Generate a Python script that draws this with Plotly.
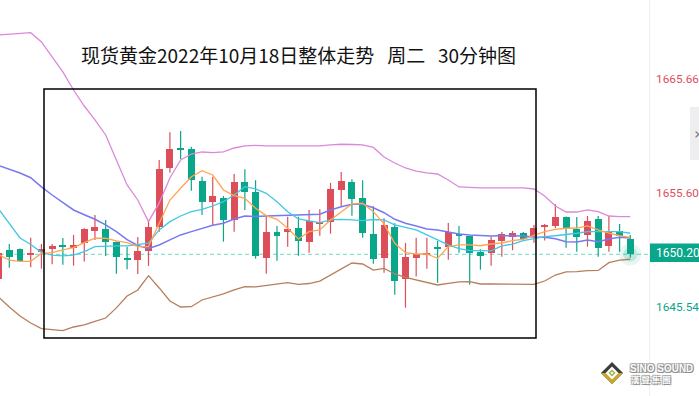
import plotly.graph_objects as go

# ---------------- data ----------------
title_text = "现货黄金2022年10月18日整体走势\u00a0\u00a0\u00a0周二\u00a0\u00a0\u00a030分钟图"

opens = [1648.07, 1650.60, 1650.68, 1650.18, 1650.45, 1650.68, 1650.95, 1650.80, 1651.19, 1652.30,
         1652.45, 1651.30, 1649.92, 1649.71, 1650.51, 1652.65, 1657.85, 1659.49, 1659.49, 1656.67,
         1654.85, 1655.15, 1653.24, 1656.59, 1655.70, 1649.92, 1652.18, 1652.16, 1652.53, 1651.33,
         1652.95, 1653.04, 1655.91, 1656.59, 1655.18, 1652.00, 1649.92, 1652.65, 1648.07, 1649.92,
         1650.15, 1650.77, 1650.86, 1651.94, 1651.83, 1650.42, 1650.36, 1651.39, 1651.77, 1652.09,
         1651.77, 1652.65, 1652.71, 1653.50, 1652.45, 1651.94, 1653.33, 1650.97, 1652.27, 1651.57]
highs = [1650.60, 1651.12, 1650.72, 1651.68, 1651.12, 1651.12, 1651.65, 1651.92, 1652.50, 1653.68,
         1653.24, 1651.35, 1650.89, 1651.74, 1653.09, 1658.52, 1660.96, 1661.08, 1659.70, 1657.05,
         1657.05, 1655.35, 1657.29, 1657.70, 1656.74, 1653.65, 1652.71, 1653.53, 1653.53, 1654.12,
         1654.18, 1656.50, 1657.47, 1656.82, 1656.74, 1654.45, 1653.39, 1652.95, 1651.21, 1651.68,
         1651.68, 1651.39, 1652.98, 1652.71, 1651.85, 1650.66, 1651.77, 1652.18, 1652.27, 1652.18,
         1652.80, 1652.89, 1654.62, 1653.55, 1653.50, 1653.59, 1653.59, 1653.59, 1652.89, 1651.92]
lows = [1647.90, 1649.04, 1649.60, 1649.07, 1648.95, 1649.33, 1649.30, 1649.21, 1649.58, 1651.48,
        1650.07, 1648.51, 1648.90, 1648.48, 1649.19, 1652.21, 1657.41, 1658.61, 1655.82, 1653.68,
        1652.80, 1651.33, 1652.21, 1654.12, 1649.83, 1648.51, 1649.65, 1650.89, 1650.09, 1650.36,
        1651.86, 1652.03, 1654.41, 1653.62, 1651.68, 1649.39, 1648.60, 1646.66, 1645.51, 1648.25,
        1648.95, 1647.71, 1649.74, 1650.36, 1647.53, 1648.86, 1649.21, 1650.00, 1650.57, 1651.42,
        1651.24, 1651.42, 1652.53, 1650.80, 1650.45, 1650.89, 1650.00, 1650.45, 1650.45, 1649.92]
closes = [1650.37, 1650.00, 1649.65, 1650.33, 1650.68, 1650.95, 1650.86, 1651.04, 1652.45, 1652.62,
          1651.33, 1650.00, 1649.74, 1650.48, 1652.62, 1657.73, 1659.49, 1659.43, 1656.74, 1654.85,
          1655.35, 1653.26, 1656.59, 1655.73, 1650.09, 1652.18, 1651.86, 1652.45, 1651.36, 1653.15,
          1653.06, 1655.94, 1656.67, 1655.11, 1652.12, 1649.83, 1652.80, 1647.89, 1649.98, 1650.22,
          1650.33, 1650.71, 1652.16, 1651.83, 1650.36, 1650.09, 1651.48, 1652.00, 1652.09, 1651.54,
          1652.53, 1652.71, 1653.50, 1652.53, 1651.77, 1653.15, 1650.80, 1652.18, 1651.83, 1650.20]

boll_upper = [1669.54, 1669.62, 1669.71, 1669.74, 1668.92, 1667.60, 1666.28, 1664.69, 1663.28, 1662.05,
              1660.73, 1658.52, 1656.32, 1655.00, 1653.09, 1654.74, 1656.94, 1658.52, 1659.05, 1659.23,
              1659.18, 1659.23, 1659.58, 1659.76, 1659.82, 1659.76, 1659.76, 1659.76, 1659.76, 1659.76,
              1659.76, 1659.85, 1659.91, 1659.89, 1659.85, 1659.63, 1658.79, 1658.26, 1657.82, 1657.55,
              1657.38, 1657.29, 1656.76, 1656.15, 1656.08, 1656.06, 1656.06, 1656.08, 1656.08, 1656.06,
              1655.97, 1655.35, 1654.47, 1653.94, 1653.94, 1654.12, 1653.97, 1653.59, 1653.53, 1653.53]
boll_lower = [1646.45, 1645.57, 1644.78, 1644.16, 1643.66, 1643.55, 1643.49, 1643.81, 1643.99, 1644.30,
              1644.60, 1645.49, 1646.54, 1647.07, 1648.33, 1647.25, 1646.10, 1645.57, 1645.60, 1646.19,
              1646.45, 1646.72, 1647.07, 1647.36, 1647.34, 1647.45, 1647.54, 1647.71, 1647.57, 1647.64,
              1647.85, 1648.39, 1648.98, 1649.45, 1649.36, 1648.83, 1648.98, 1648.48, 1648.19, 1647.95,
              1647.71, 1647.51, 1647.66, 1647.78, 1647.80, 1647.60, 1647.60, 1647.60, 1647.60, 1647.60,
              1647.57, 1647.86, 1648.39, 1648.66, 1648.68, 1648.77, 1648.79, 1649.48, 1649.71, 1649.78]
ma20 = [1658.04, 1657.73, 1657.38, 1656.96, 1656.15, 1655.44, 1654.80, 1654.12, 1653.70, 1653.30,
        1652.80, 1652.21, 1651.50, 1650.99, 1650.73, 1651.04, 1651.48, 1651.92, 1652.21, 1652.51,
        1652.77, 1652.95, 1653.33, 1653.59, 1653.55, 1653.59, 1653.62, 1653.65, 1653.68, 1653.70,
        1653.74, 1654.12, 1654.41, 1654.62, 1654.62, 1654.32, 1653.88, 1653.30, 1652.95, 1652.71,
        1652.45, 1652.36, 1652.15, 1652.00, 1651.92, 1651.85, 1651.83, 1651.85, 1651.83, 1651.83,
        1651.74, 1651.71, 1651.59, 1651.33, 1651.30, 1651.48, 1651.33, 1651.56, 1651.71, 1651.65]
ma10 = [1654.21, 1652.89, 1651.65, 1651.08, 1650.39, 1650.15, 1650.07, 1650.15, 1650.45, 1650.89,
        1650.95, 1650.95, 1650.95, 1651.04, 1651.19, 1652.36, 1653.09, 1653.59, 1653.97, 1654.18,
        1654.47, 1654.85, 1655.44, 1656.17, 1655.97, 1655.59, 1654.85, 1653.97, 1653.33, 1653.15,
        1653.00, 1653.24, 1653.30, 1653.24, 1653.18, 1653.28, 1653.24, 1652.80, 1652.59, 1652.36,
        1651.92, 1651.48, 1651.04, 1650.71, 1650.53, 1650.53, 1650.51, 1650.95, 1651.12, 1651.41,
        1651.59, 1651.77, 1651.85, 1651.94, 1652.07, 1652.21, 1652.21, 1652.24, 1652.21, 1652.07]
ma5 = [1650.20, 1649.71, 1649.60, 1649.60, 1650.30, 1650.36, 1650.60, 1650.80, 1651.24, 1651.63,
       1651.63, 1651.39, 1651.24, 1650.89, 1650.89, 1652.95, 1655.00, 1656.03, 1657.05, 1657.58,
       1657.20, 1655.88, 1655.38, 1655.15, 1654.27, 1653.62, 1653.30, 1652.51, 1651.56, 1652.21,
       1652.36, 1653.24, 1653.97, 1654.65, 1654.71, 1653.97, 1652.89, 1651.19, 1650.36, 1650.24,
       1650.24, 1649.86, 1650.89, 1651.04, 1651.04, 1650.97, 1651.12, 1651.21, 1651.41, 1651.54,
       1651.89, 1652.21, 1652.42, 1652.51, 1652.53, 1652.71, 1652.36, 1652.07, 1651.85, 1651.71]

axis_tick_values = [1665.66, 1655.60, 1645.54]
axis_tick_colors = ["#DC4E5A", "#DC4E5A", "#0AA68A"]
current_price = 1650.20

# ---------------- styling ----------------
UP = "#DC4E5A"
DOWN = "#0AA68A"
W, H = 699, 396
MR = 50
PW = W - MR  # plot width in px


def px(x):
    return x / PW


def py(y):
    return 1 - y / H


idx = list(range(len(opens)))
fig = go.Figure()

# wicks
for col, cond in ((UP, lambda o, c: c >= o), (DOWN, lambda o, c: c < o)):
    wx, wy = [], []
    for i in idx:
        if cond(opens[i], closes[i]):
            wx += [i, i, None]
            wy += [lows[i], highs[i], None]
    fig.add_trace(go.Scatter(x=wx, y=wy, mode="lines", line=dict(color=col, width=1.2),
                             hoverinfo="skip"))

# bodies
for col, cond in ((UP, lambda o, c: c >= o), (DOWN, lambda o, c: c < o)):
    bx, bb, bh = [], [], []
    for i in idx:
        o, c = opens[i], closes[i]
        if cond(o, c):
            bx.append(i)
            bb.append(min(o, c))
            bh.append(max(abs(c - o), 0.1))
    fig.add_trace(go.Bar(x=bx, y=bh, base=bb, width=0.65, marker=dict(color=col, line=dict(width=0)),
                         hoverinfo="skip"))

# glow at last candle
fig.add_trace(go.Scatter(x=[idx[-1]], y=[closes[-1]], mode="markers",
                         marker=dict(size=22, color="rgba(10,166,138,0.10)", line=dict(width=0)),
                         hoverinfo="skip"))
fig.add_trace(go.Scatter(x=[idx[-1]], y=[closes[-1]], mode="markers",
                         marker=dict(size=14, color="rgba(10,166,138,0.18)", line=dict(width=0)),
                         hoverinfo="skip"))

# indicator lines
for vals, col, w in ((boll_upper, "#DD88D8", 1.3), (boll_lower, "#B77E5C", 1.3),
                     (ma20, "#7878F2", 1.5), (ma10, "#40C8E4", 1.3), (ma5, "#FFA552", 1.3)):
    fig.add_trace(go.Scatter(x=idx, y=vals, mode="lines", line=dict(color=col, width=w),
                             hoverinfo="skip"))

shapes = []
# current price dashed line
shapes.append(dict(type="line", xref="paper", yref="y", x0=0, x1=1, y0=current_price, y1=current_price,
                   line=dict(color="#8EDFCF", width=1.2, dash="4px,3px"), layer="below"))
# right panel separator
shapes.append(dict(type="line", xref="paper", yref="paper", x0=px(649.5), x1=px(649.5), y0=0, y1=1,
                   line=dict(color="#EEEEEE", width=1)))
# annotation box
shapes.append(dict(type="rect", xref="paper", yref="paper", x0=px(44), x1=px(536), y0=py(338), y1=py(89),
                   line=dict(color="#000000", width=1.5)))
# price box
shapes.append(dict(type="rect", xref="paper", yref="paper", x0=px(650), x1=px(702), y0=py(262), y1=py(243.5),
                   fillcolor=DOWN, line=dict(width=0)))
# side button
shapes.append(dict(type="rect", xref="paper", yref="paper", x0=px(690), x1=px(706), y0=py(160), y1=py(107),
                   fillcolor="#EEEEF0", line=dict(width=0)))
# logo diamond
cx, cy = 612, 373


def diamond(r):
    pts = [(cx, cy - r), (cx + r, cy), (cx, cy + r), (cx - r, cy)]
    return "M " + " L ".join(f"{px(a):.5f},{py(b):.5f}" for a, b in pts) + " Z"


shapes.append(dict(type="path", xref="paper", yref="paper", path=diamond(11), fillcolor="#3C3C3C",
                   line=dict(width=0)))
shapes.append(dict(type="path", xref="paper", yref="paper",
                   path=f"M {px(cx-11):.5f},{py(cy):.5f} L {px(cx):.5f},{py(cy+11):.5f} L {px(cx+11):.5f},{py(cy):.5f} "
                        f"L {px(cx+6):.5f},{py(cy):.5f} L {px(cx):.5f},{py(cy+6):.5f} L {px(cx-6):.5f},{py(cy):.5f} Z",
                   fillcolor="#C9A62A", line=dict(width=0)))
shapes.append(dict(type="path", xref="paper", yref="paper", path=diamond(6.5), fillcolor="#FFFFFF",
                   line=dict(width=0)))
shapes.append(dict(type="path", xref="paper", yref="paper", path=diamond(3.5), fillcolor="#9DB445",
                   line=dict(width=0)))
shapes.append(dict(type="path", xref="paper", yref="paper", path=diamond(1.5), fillcolor="#FFFFFF",
                   line=dict(width=0)))

annotations = []
annotations.append(dict(text=title_text, xref="paper", yref="paper", x=px(298.5), y=py(55),
                        xanchor="center", yanchor="middle", showarrow=False,
                        font=dict(family="Noto Sans CJK SC", size=19, color="#111111")))
for v, c in zip(axis_tick_values, axis_tick_colors):
    annotations.append(dict(text=f"{v:.2f}", xref="paper", yref="y", x=px(654), y=v,
                            xanchor="left", yanchor="middle", showarrow=False,
                            font=dict(family="Roboto", size=11.8, color=c)))
annotations.append(dict(text=f"{current_price:.2f}", xref="paper", yref="paper", x=px(654), y=py(252.7),
                        xanchor="left", yanchor="middle", showarrow=False,
                        font=dict(family="Roboto", size=12, color="#FFFFFF")))
annotations.append(dict(text="›", xref="paper", yref="paper", x=px(692), y=py(133),
                        xanchor="left", yanchor="middle", showarrow=False,
                        font=dict(family="DejaVu Sans", size=16, color="#777777")))
logo_shadow = "1px 1px 0px #8A8A8A, -1px -1px 0px #B0B0B0, 1px -1px 0px #A0A0A0, -1px 1px 0px #A0A0A0"
annotations.append(dict(text="<b>SINO SOUND</b>", xref="paper", yref="paper", x=px(628), y=py(368.5),
                        xanchor="left", yanchor="middle", showarrow=False,
                        font=dict(family="Liberation Sans", size=10, color="#FAFAFA", shadow=logo_shadow)))
annotations.append(dict(text="<b>漢 聲 集 團</b>", xref="paper", yref="paper", x=px(629), y=py(379),
                        xanchor="left", yanchor="middle", showarrow=False,
                        font=dict(family="Noto Sans CJK TC", size=8.5, color="#FAFAFA", shadow=logo_shadow)))

fig.update_layout(
    width=W, height=H,
    margin=dict(l=0, r=MR, t=0, b=0),
    paper_bgcolor="#FFFFFF", plot_bgcolor="#FFFFFF",
    showlegend=False, barmode="overlay", bargap=0,
    xaxis=dict(range=[0.131, 60.745], visible=False, fixedrange=True),
    yaxis=dict(range=[1637.73, 1672.62], visible=False, fixedrange=True),
    shapes=shapes, annotations=annotations,
    hovermode=False,
)

fig.write_html("out.html", config={"displayModeBar": False},
               post_script="document.body.style.margin='0';document.body.style.overflow='hidden';")
